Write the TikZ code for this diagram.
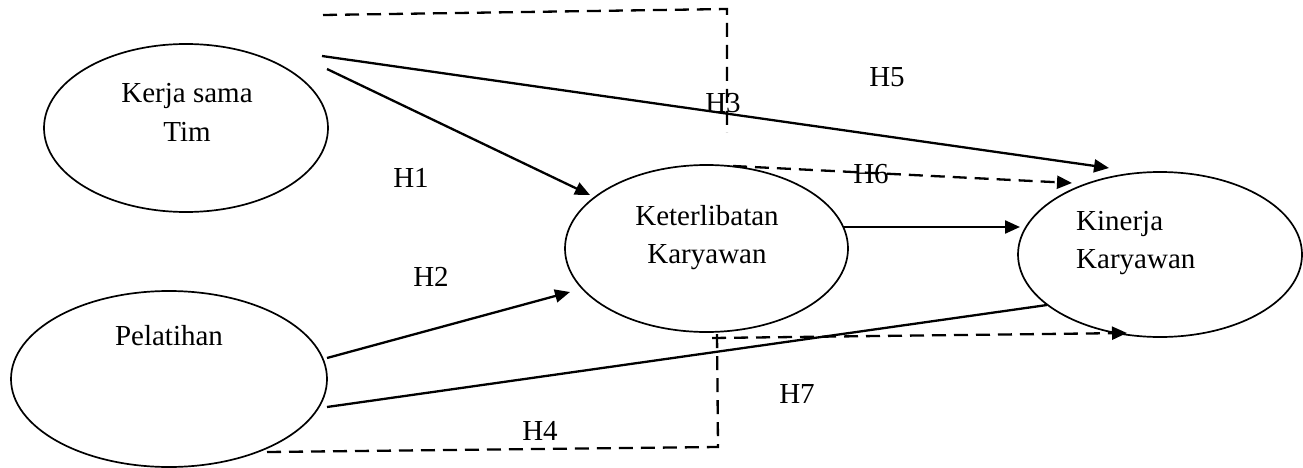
\documentclass[tikz,border=0pt]{standalone}
\usepackage{fontspec}
\setmainfont{Liberation Serif}
\usetikzlibrary{arrows.meta,shapes.geometric}
\begin{document}
\begin{tikzpicture}[x=1pt,y=-1pt,
  ell/.style={draw,ellipse,line width=1.7pt,inner sep=0pt},
  lbl/.style={anchor=base,inner sep=0pt,font=\fontsize{29}{34}\selectfont},
  conn/.style={line width=2.3pt},
  dconn/.style={line width=2.3pt,dash pattern=on 14pt off 8pt},
  arr/.style={-{Triangle[length=15pt,width=13pt]}}]
\useasboundingbox (0,0) rectangle (1303,468);

% ellipses
\node[ell,minimum width=284,minimum height=168] (tim) at (186,128) {};
\node[ell,minimum width=316,minimum height=176] (pel) at (169,379) {};
\node[ell,minimum width=283,minimum height=167] (ket) at (706.5,248.5) {};
\node[ell,minimum width=284,minimum height=165] (kin) at (1160,254.5) {};

% texts
\node[lbl] (t1) at (187,103) {Kerja sama};
\node[lbl] (t2) at (187,142) {Tim};
\node[lbl] (t3) at (169,345) {Pelatihan};
\node[lbl] (t4) at (707,225) {Keterlibatan};
\node[lbl] (t5) at (707,263) {Karyawan};
\node[lbl,anchor=base west] (t6) at (1076,230) {Kinerja};
\node[lbl,anchor=base west] (t7) at (1076,268) {Karyawan};

% hypothesis labels
\node[lbl] (h1) at (411,187) {H1};
\node[lbl] (h2) at (431,286) {H2};
\node[lbl] (h3) at (723,113) {H3};
\node[lbl] (h4) at (540,440) {H4};
\node[lbl] (h5) at (887,87) {H5};
\node[lbl] (h6) at (871,183) {H6};
\node[lbl] (h7) at (797,403) {H7};

% connector end points
\coordinate (a1) at (327,69);   \coordinate (b1) at (590,195);
\coordinate (a5) at (322,56);   \coordinate (b5) at (1109,168);
\coordinate (a3) at (323,15);   \coordinate (c3) at (727,9);   \coordinate (b3) at (727,133);
\coordinate (a6) at (733,166);  \coordinate (b6) at (1072,183);
\coordinate (ak) at (843,227);  \coordinate (bk) at (1020,227);
\coordinate (a2) at (327,358);  \coordinate (b2) at (570,292);
\coordinate (ap) at (327,407);  \coordinate (bp) at (1047,305);
\coordinate (a7) at (712,338);  \coordinate (b7) at (1127,333);
\coordinate (a4) at (267,452);  \coordinate (c4) at (718,447); \coordinate (b4) at (717,333);

% connectors
\draw[conn,arr] (a1) -- (b1);
\draw[conn,arr] (a5) -- (b5);
\draw[dconn] (a3) -- (c3) -- (b3);
\draw[dconn,arr] (a6) -- (b6);
\draw[conn,arr] (ak) -- (bk);
\draw[conn,arr] (a2) -- (b2);
\draw[conn] (ap) -- (bp);
\draw[dconn,arr] (a7) -- (b7);
\draw[dconn] (a4) -- (c4) -- (b4);
\end{tikzpicture}
\end{document}
